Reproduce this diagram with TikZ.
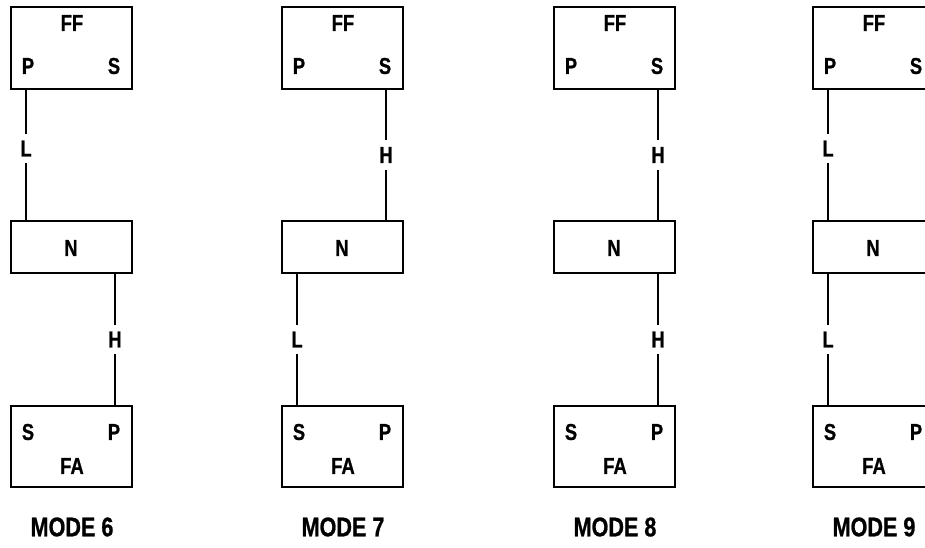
\documentclass[tikz,border=0pt]{standalone}
\usepackage{fontspec}
\setmainfont{Liberation Sans}[FakeStretch=0.8,BoldFeatures={FakeBold=0.8}]
\begin{document}
\begin{tikzpicture}[x=1pt,y=-1pt,
  box/.style={draw,line width=2pt,rectangle,minimum width=121pt,inner sep=0pt},
  lab/.style={inner sep=0pt,font=\fontsize{23}{23}\selectfont\bfseries},
  modelab/.style={inner sep=0pt,font=\fontsize{27}{27}\selectfont\bfseries},
  conn/.style={line width=2pt},
  mid/.style={fill=white,inner sep=7pt,font=\fontsize{23}{23}\selectfont\bfseries}]
\useasboundingbox (0,0) rectangle (925,548);
\clip (0,0) rectangle (925,548);
\newcommand\modecol[3]{%
  \node[box,minimum height=82pt] (ff#1) at (#2+60.5,48) {};
  \node[lab] (ffT#1) at (#2+61,23) {FF};
  \node[lab] (ffP#1) at (#2+17,66) {P};
  \node[lab] (ffS#1) at (#2+103,66) {S};
  \node[box,minimum height=52pt] (n#1) at (#2+60.5,247) {};
  \node[lab] (nT#1) at (#2+60,248) {N};
  \node[box,minimum height=81pt] (fa#1) at (#2+60.5,446.5) {};
  \node[lab] (faS#1) at (#2+17,432) {S};
  \node[lab] (faP#1) at (#2+103,432) {P};
  \node[lab] (faT#1) at (#2+61,466) {FA};
  \node[modelab] (mode#1) at (#2+61,527) {MODE #3};
  \coordinate (pl#1) at (#2+15,0);
  \coordinate (sl#1) at (#2+104,0);
}
\modecol{a}{11}{6}
\modecol{b}{282}{7}
\modecol{c}{554}{8}
\modecol{d}{813}{9}
% Mode 6
\draw[conn] (pla |- ffa.south) -- node[mid,pos=0.45]{L} (pla |- na.north);
\draw[conn] (sla |- na.south) -- node[mid]{H} (sla |- faa.north);
% Mode 7
\draw[conn] (slb |- ffb.south) -- node[mid,pos=0.5]{H} (slb |- nb.north);
\draw[conn] (plb |- nb.south) -- node[mid]{L} (plb |- fab.north);
% Mode 8
\draw[conn] (slc |- ffc.south) -- node[mid,pos=0.5]{H} (slc |- nc.north);
\draw[conn] (slc |- nc.south) -- node[mid]{H} (slc |- fac.north);
% Mode 9
\draw[conn] (pld |- ffd.south) -- node[mid,pos=0.45]{L} (pld |- nd.north);
\draw[conn] (pld |- nd.south) -- node[mid]{L} (pld |- fad.north);
\end{tikzpicture}
\end{document}
